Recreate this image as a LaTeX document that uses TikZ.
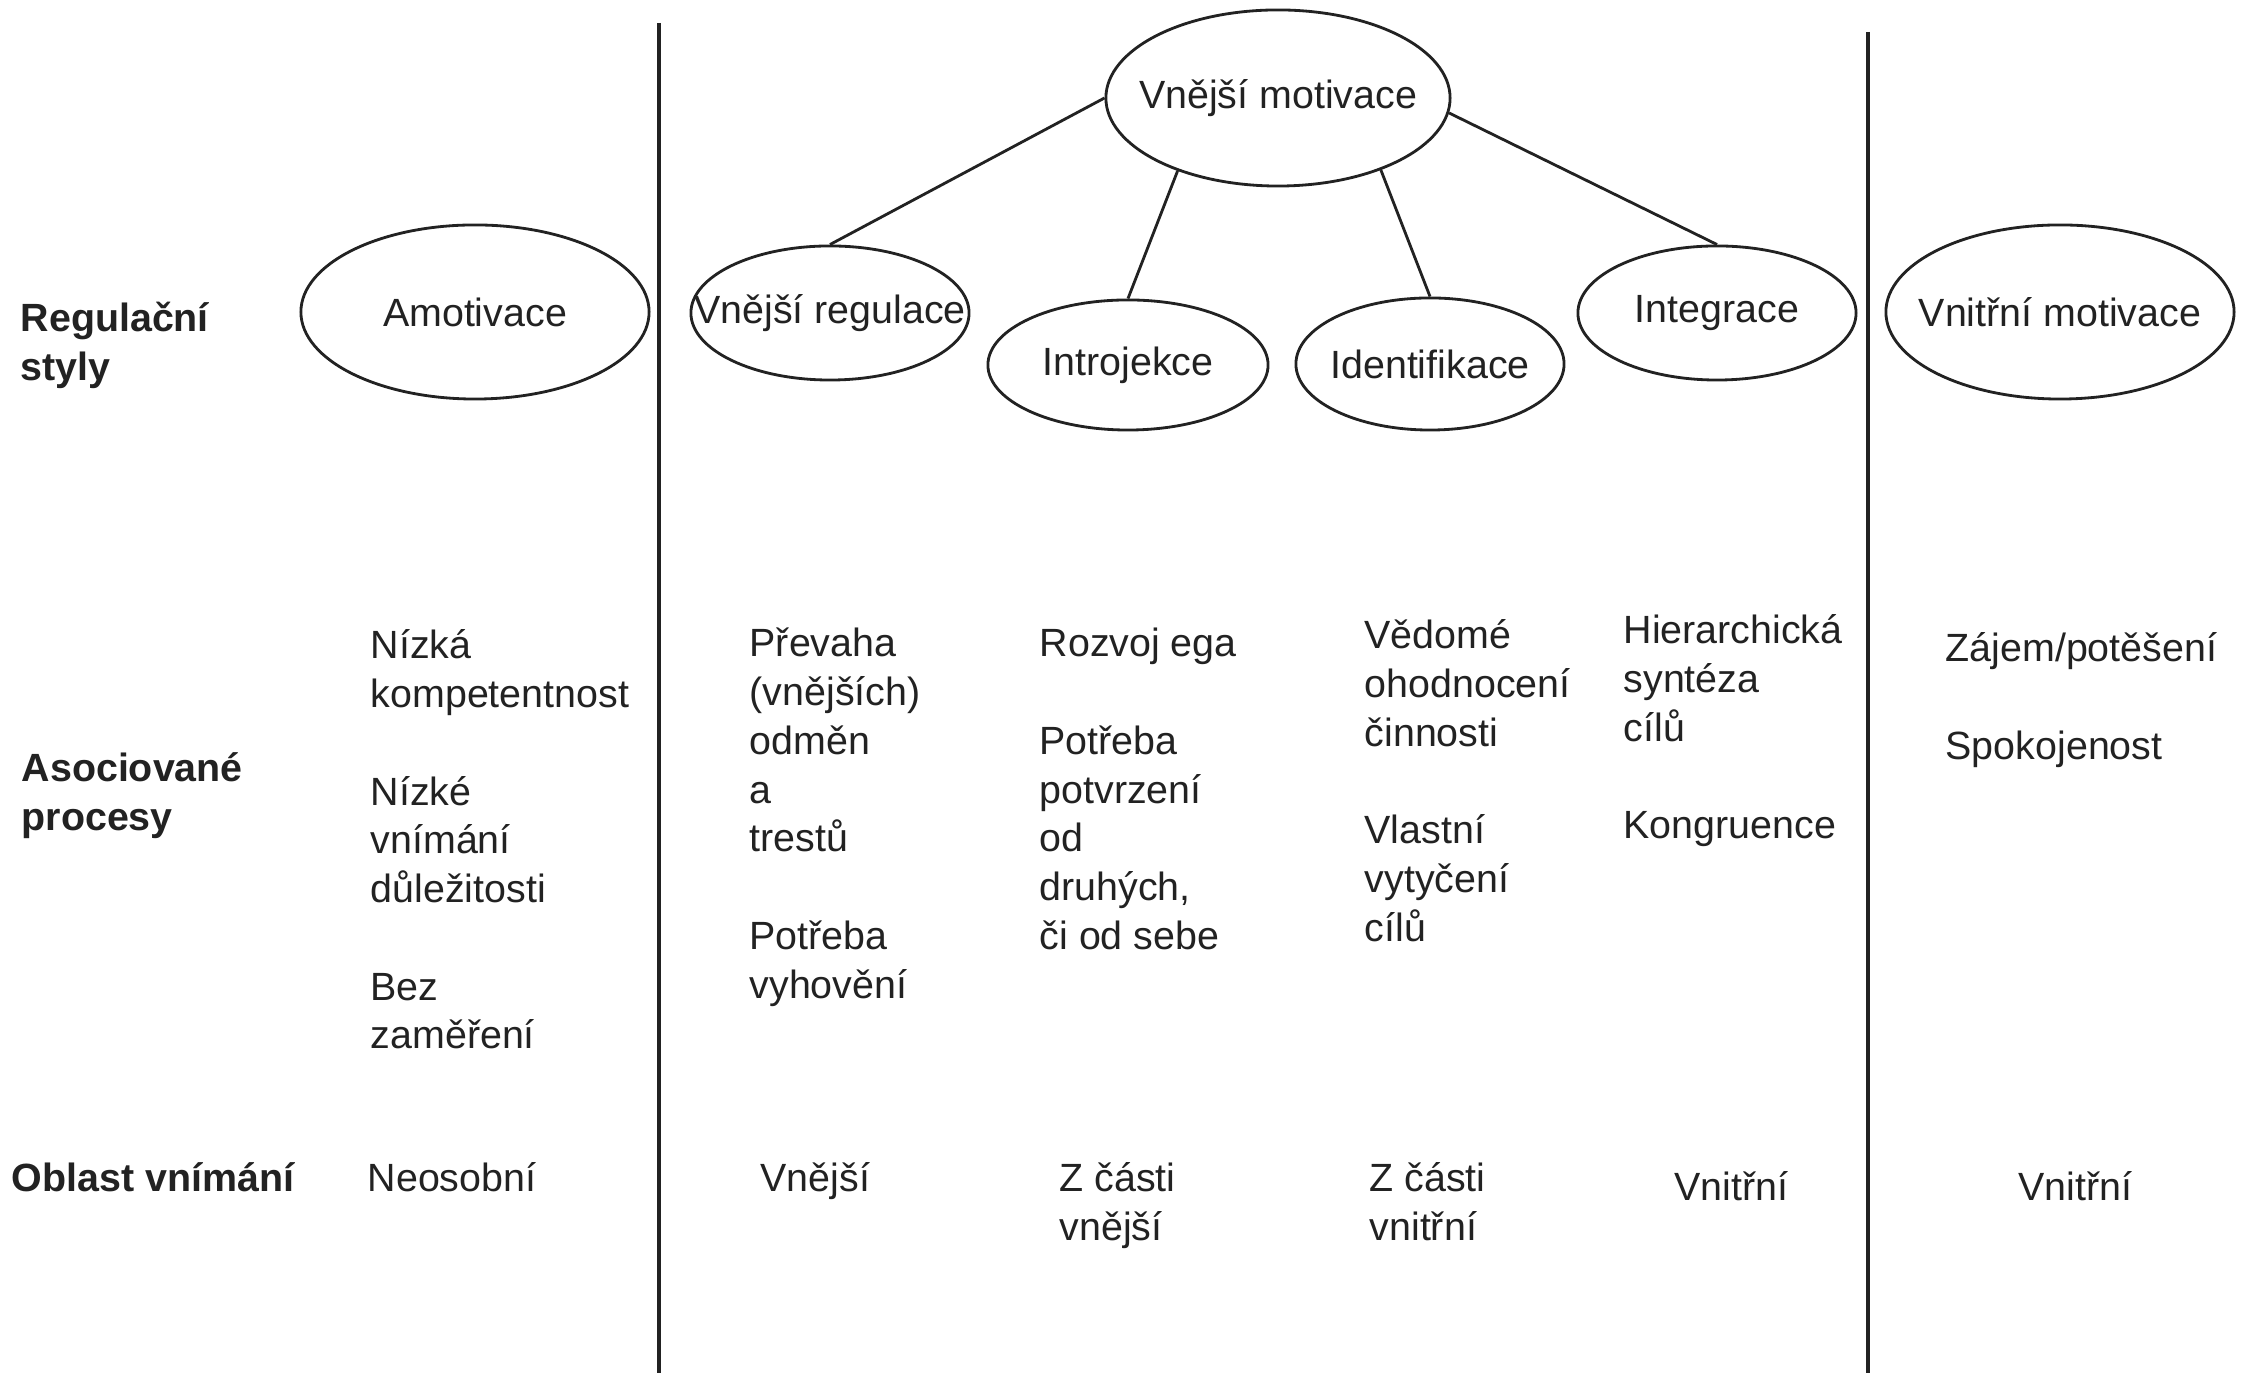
\documentclass[tikz,border=0pt]{standalone}
\usepackage{fontspec}
\setmainfont{Liberation Sans}
\usetikzlibrary{shapes.geometric}
\newcommand{\colstack}[1]{\vtop{\baselineskip=13.86pt\lineskiplimit=-100pt\halign{##\hfil\cr#1\crcr}}}
\definecolor{ink}{HTML}{222222}
\tikzset{
  txt/.style={anchor=base west, inner sep=0pt, text=ink, font=\fontsize{11.2}{13.86}\selectfont},
  head/.style={txt, font=\fontsize{11.2}{13.86}\selectfont\bfseries},
  lbl/.style={inner sep=0pt, text=ink, font=\fontsize{11.2}{13.86}\selectfont},
  ell/.style={draw=ink, ellipse, inner sep=0pt, line width=0.8pt},
  edge/.style={draw=ink, line width=0.8pt},
  sep/.style={draw=ink, line width=0.9pt}
}
\begin{document}
\begin{tikzpicture}[x=0.01cm, y=-0.01cm]
\useasboundingbox (0,0) rectangle (2247,1377);
\fill[white] (0,0) rectangle (2247,1377);

% separators
\coordinate (s1t) at (659,23);
\coordinate (s1b) at (659,1373);
\coordinate (s2t) at (1868,32);
\coordinate (s2b) at (1868,1373);
\draw[sep] (s1t) -- (s1b);
\draw[sep] (s2t) -- (s2b);

% ellipses
\node[ell, minimum width=3.44cm, minimum height=1.76cm, label={[lbl]center:Vnější motivace}] (vm) at (1278,98) {};
\node[ell, minimum width=3.48cm, minimum height=1.74cm, label={[lbl]center:Amotivace}] (am) at (475,312) {};
\node[ell, minimum width=2.78cm, minimum height=1.34cm, label={[lbl]center:Vnější regulace}] (vr) at (830,313) {};
\node[ell, minimum width=2.80cm, minimum height=1.30cm, label={[lbl]center:Introjekce}] (in) at (1128,365) {};
\node[ell, minimum width=2.68cm, minimum height=1.32cm, label={[lbl]center:Identifikace}] (id) at (1430,364) {};
\node[ell, minimum width=2.78cm, minimum height=1.34cm, label={[lbl]center:Integrace}] (ig) at (1717,313) {};
\node[ell, minimum width=3.48cm, minimum height=1.74cm, label={[lbl]center:Vnitřní motivace}] (vim) at (2060,312) {};

% connectors
\draw[edge] (vm.west) -- (vr.north);
\draw[edge] (vm.-144) -- (in.north);
\draw[edge] (vm.-35) -- (id.north);
\draw[edge] (vm.-5) -- (ig.north);

% row headings
\node[head] (h1) at (20,332) {\colstack{Regulační\cr styly}};
\node[head] (h2) at (21,782) {\colstack{Asociované\cr procesy}};
\node[head] (h3) at (11,1192) {Oblast vnímání};

% associated processes
\node[txt] (p1) at (370,659) {\colstack{Nízká\cr kompetentnost\cr\cr Nízké\cr vnímání\cr důležitosti\cr\cr Bez\cr zaměření}};
\node[txt] (p2) at (749,657) {\colstack{Převaha\cr (vnějších)\cr odměn\cr a\cr trestů\cr\cr Potřeba\cr vyhovění}};
\node[txt] (p3) at (1039,657) {\colstack{Rozvoj ega\cr\cr Potřeba\cr potvrzení\cr od\cr druhých,\cr či od sebe}};
\node[txt] (p4) at (1364,649) {\colstack{Vědomé\cr ohodnocení\cr činnosti\cr\cr Vlastní\cr vytyčení\cr cílů}};
\node[txt] (p5) at (1623,644) {\colstack{Hierarchická\cr syntéza\cr cílů\cr\cr Kongruence}};
\node[txt] (p6) at (1945,662) {\colstack{Zájem/potěšení\cr\cr Spokojenost}};

% perceived locus
\node[txt] (o1) at (367,1192) {Neosobní};
\node[txt] (o2) at (760,1192) {Vnější};
\node[txt] (o3) at (1059,1192) {\colstack{Z části\cr vnější}};
\node[txt] (o4) at (1369,1192) {\colstack{Z části\cr vnitřní}};
\node[txt] (o5) at (1674,1201) {Vnitřní};
\node[txt] (o6) at (2018,1201) {Vnitřní};
\end{tikzpicture}
\end{document}
